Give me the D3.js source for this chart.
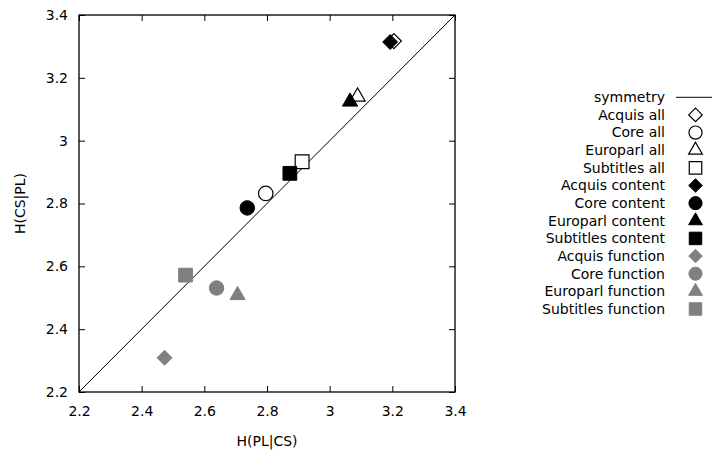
<!DOCTYPE html>
<html>
<head>
<meta charset="utf-8">
<script src="https://cdn.jsdelivr.net/npm/d3@7"></script>
<style>
  body { margin: 0; background: #fff; }
  text { font-family: "DejaVu Sans", sans-serif; fill: #000; }
</style>
</head>
<body>
<div id="chart"></div>
<script>
// Data
var seriesNames = ["Acquis all", "Core all", "Europarl all", "Subtitles all",
    "Acquis content", "Core content", "Europarl content", "Subtitles content",
    "Acquis function", "Core function", "Europarl function", "Subtitles function"];
var xValues = [3.205, 2.796, 3.089, 2.912, 3.193, 2.737, 3.065, 2.873, 2.473, 2.639, 2.706, 2.540];
var yValues = [3.317, 2.832, 3.140, 2.933, 3.314, 2.786, 3.124, 2.896, 2.309, 2.531, 2.508, 2.572];
var shapes = ["diamond", "circle", "triangle", "square",
    "diamond", "circle", "triangle", "square",
    "diamond", "circle", "triangle", "square"];
var styles = ["open", "open", "open", "open",
    "black", "black", "black", "black",
    "gray", "gray", "gray", "gray"];
var tickValues = [2.2, 2.4, 2.6, 2.8, 3.0, 3.2, 3.4];
var domain = [2.2, 3.4];

var width = 713, height = 454;
var margin = { left: 79, top: 15, right: 258, bottom: 62 };
var fontSize = "14px";

var svg = d3.select("#chart").append("svg")
    .attr("width", width)
    .attr("height", height);

var x = d3.scaleLinear().domain(domain).range([margin.left, width - margin.right]);
var y = d3.scaleLinear().domain(domain).range([height - margin.bottom, margin.top]);

var fmt = function(d) { return d3.format("")(+d.toFixed(1)); };

// Axes with inward ticks on all four sides
function styleAxis(g) {
    g.attr("font-size", null).attr("font-family", null);
    g.select(".domain").remove();
    g.selectAll("line").attr("stroke", "#000").attr("stroke-width", 1);
    g.selectAll("text").style("font-size", fontSize).attr("fill", "#000");
}
svg.append("g")
    .attr("transform", "translate(0," + y.range()[0] + ")")
    .call(d3.axisBottom(x).tickValues(tickValues).tickFormat(fmt).tickSizeInner(-6).tickPadding(14))
    .call(styleAxis);
svg.append("g")
    .attr("transform", "translate(0," + y.range()[1] + ")")
    .call(d3.axisTop(x).tickValues(tickValues).tickFormat("").tickSizeInner(-6))
    .call(styleAxis);
svg.append("g")
    .attr("transform", "translate(" + x.range()[0] + ",0)")
    .call(d3.axisLeft(y).tickValues(tickValues).tickFormat(fmt).tickSizeInner(-6).tickPadding(11))
    .call(styleAxis);
svg.append("g")
    .attr("transform", "translate(" + x.range()[1] + ",0)")
    .call(d3.axisRight(y).tickValues(tickValues).tickFormat("").tickSizeInner(-6))
    .call(styleAxis);

// Frame
svg.append("rect")
    .attr("x", x.range()[0]).attr("y", y.range()[1])
    .attr("width", x.range()[1] - x.range()[0])
    .attr("height", y.range()[0] - y.range()[1])
    .attr("fill", "none").attr("stroke", "#000").attr("stroke-width", 1.3);

// Symmetry line
svg.append("line")
    .attr("x1", x(domain[0])).attr("y1", y(domain[0]))
    .attr("x2", x(domain[1])).attr("y2", y(domain[1]))
    .attr("stroke", "#000").attr("stroke-width", 1);

// Axis labels
svg.append("text")
    .attr("x", (x.range()[0] + x.range()[1]) / 2)
    .attr("y", 446)
    .attr("text-anchor", "middle")
    .style("font-size", fontSize)
    .text("H(PL|CS)");
svg.append("text")
    .attr("transform", "translate(25," + ((y.range()[0] + y.range()[1]) / 2) + ") rotate(-90)")
    .attr("text-anchor", "middle")
    .style("font-size", fontSize)
    .text("H(CS|PL)");

var symbolTypes = {
    circle: d3.symbolCircle,
    triangle: d3.symbolTriangle,
    square: d3.symbolSquare
};
var symbolSizes = { diamond: 112, circle: 165, triangle: 100, square: 190 };
var gray = "#808080";

function symbolPath(shape, scale) {
    var s = symbolSizes[shape] * scale;
    if (shape === "diamond") {
        // square rotated 45 deg
        var h = Math.sqrt(s * 2) / 2;
        return "M0," + (-h) + "L" + h + ",0L0," + h + "L" + (-h) + ",0Z";
    }
    return d3.symbol().type(symbolTypes[shape]).size(s)();
}
function applyStyle(sel, st) {
    if (st === "open") sel.attr("fill", "#fff").attr("stroke", "#000").attr("stroke-width", 1.2);
    else if (st === "black") sel.attr("fill", "#000").attr("stroke", "#000").attr("stroke-width", 1);
    else sel.attr("fill", gray).attr("stroke", gray).attr("stroke-width", 1);
}

// Points
seriesNames.forEach(function(name, i) {
    svg.append("path")
        .attr("d", symbolPath(shapes[i], 1))
        .attr("transform", "translate(" + x(xValues[i]) + "," + y(yValues[i]) + ")")
        .call(applyStyle, styles[i]);
});

// Legend
var legendX = 665, legendY0 = 97.3, legendStep = 17.64;
var legend = svg.append("g");
legend.append("text")
    .attr("x", legendX).attr("y", legendY0).attr("dy", "0.35em")
    .attr("text-anchor", "end").style("font-size", fontSize)
    .text("symmetry");
legend.append("line")
    .attr("x1", 676).attr("x2", 712)
    .attr("y1", legendY0).attr("y2", legendY0)
    .attr("stroke", "#000");
seriesNames.forEach(function(name, i) {
    var ly = legendY0 + (i + 1) * legendStep;
    legend.append("text")
        .attr("x", legendX).attr("y", ly).attr("dy", "0.35em")
        .attr("text-anchor", "end").style("font-size", fontSize)
        .text(name);
    legend.append("path")
        .attr("d", symbolPath(shapes[i], 0.82))
        .attr("transform", "translate(695.5," + ly + ")")
        .call(applyStyle, styles[i]);
});
</script>
</body>
</html>
